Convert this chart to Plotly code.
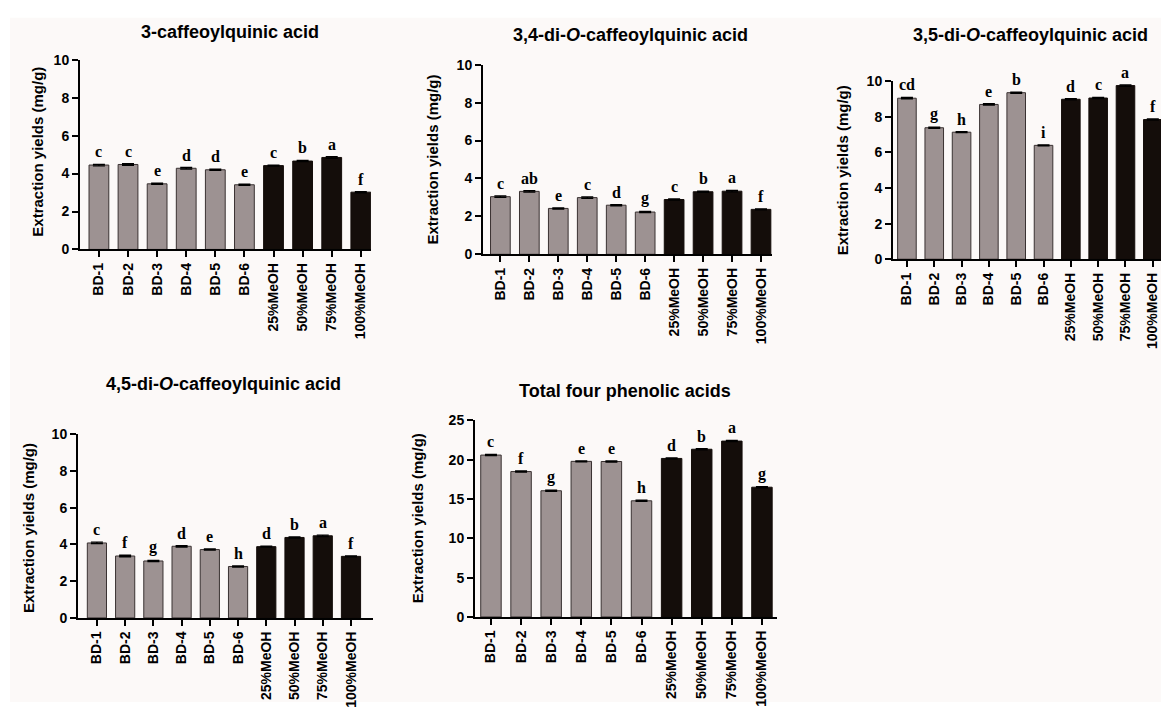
import plotly.graph_objects as go

categories = ["BD-1", "BD-2", "BD-3", "BD-4", "BD-5", "BD-6",
              "25%MeOH", "50%MeOH", "75%MeOH", "100%MeOH"]

titles = ["3-caffeoylquinic acid",
          "3,4-di-<i>O</i>-caffeoylquinic acid",
          "3,5-di-<i>O</i>-caffeoylquinic acid",
          "4,5-di-<i>O</i>-caffeoylquinic acid",
          "Total four phenolic acids"]

cqa3 = [4.45, 4.48, 3.46, 4.28, 4.20, 3.41, 4.42, 4.66, 4.85, 3.02]
dicqa34 = [3.04, 3.32, 2.42, 2.99, 2.59, 2.23, 2.89, 3.30, 3.33, 2.37]
dicqa35 = [9.05, 7.39, 7.14, 8.70, 9.36, 6.40, 8.99, 9.06, 9.76, 7.85]
dicqa45 = [4.08, 3.37, 3.10, 3.90, 3.72, 2.80, 3.88, 4.38, 4.47, 3.35]
total = [20.6, 18.5, 16.06, 19.8, 19.78, 14.78, 20.17, 21.34, 22.38, 16.51]

err_small = [0.04, 0.04, 0.03, 0.04, 0.03, 0.03, 0.03, 0.03, 0.04, 0.03]
err_total = [0.08, 0.08, 0.07, 0.07, 0.07, 0.07, 0.07, 0.07, 0.08, 0.07]

letters = [
    ["c", "c", "e", "d", "d", "e", "c", "b", "a", "f"],
    ["c", "ab", "e", "c", "d", "g", "c", "b", "a", "f"],
    ["cd", "g", "h", "e", "b", "i", "d", "c", "a", "f"],
    ["c", "f", "g", "d", "e", "h", "d", "b", "a", "f"],
    ["c", "f", "g", "e", "e", "h", "d", "b", "a", "g"],
]

series = [cqa3, dicqa34, dicqa35, dicqa45, total]
errs = [err_small, err_small, err_small, err_small, err_total]
yranges = [[0, 10], [0, 10], [0, 10], [0, 10], [0, 25]]
ydticks = [2, 2, 2, 2, 5]

W, H = 1161, 710
# pixel boxes: (left, right, top, bottom)
boxes = [(80, 371, 53, 247), (483, 772, 58, 252), (893, 1161, 75, 257),
         (78, 373, 436, 624), (475, 777, 422, 623)]
xranges = [[-0.65, 9.35], [-0.6, 9.38], [-0.51, 9.3], [-0.67, 9.78], [-0.53, 9.5]]
title_pos = [(230, 25), (630, 28), (1030, 28), (223, 385), (625, 392)]
ytitle_pos = [(38, 147), (433, 155), (842, 166), (28, 532), (417, 522)]

GREY = "#9d9292"
BLACK = "#140d0a"
colors = [GREY] * 6 + [BLACK] * 4
lines = ["#3a3232"] * 6 + [BLACK] * 4

fig = go.Figure()
annotations = []
layout = {}
for i in range(5):
    n = "" if i == 0 else str(i + 1)
    l, r, t, b = boxes[i]
    fig.add_trace(go.Bar(
        x=categories, y=series[i], xaxis="x" + n, yaxis="y" + n,
        marker=dict(color=colors, line=dict(color=lines, width=1)),
        width=0.68, showlegend=False,
        error_y=dict(type="data", array=errs[i], color="#000000",
                     thickness=1.3, width=6),
    ))
    layout["xaxis" + n] = dict(
        domain=[l / W, r / W], anchor="y" + n, type="category",
        range=xranges[i], showline=True, linecolor="black", linewidth=2,
        ticks="outside", ticklen=6, tickwidth=2, tickcolor="black",
        tickangle=-90, showgrid=False, zeroline=False,
        tickfont=dict(family="Liberation Sans", size=14, color="black"),
        ticktext=["<b>%s</b>" % c for c in categories], tickvals=categories,
    )
    tv = list(range(yranges[i][0], yranges[i][1] + 1, ydticks[i]))
    layout["yaxis" + n] = dict(
        domain=[1 - b / H, 1 - t / H], anchor="x" + n, range=yranges[i],
        showline=True, linecolor="black", linewidth=2,
        ticks="outside", ticklen=6, tickwidth=2, tickcolor="black",
        showgrid=False, zeroline=False, tickvals=tv,
        ticktext=["<b>%d</b>" % v for v in tv],
        tickfont=dict(family="Liberation Sans", size=14, color="black"),
    )
    tx, ty = title_pos[i]
    annotations.append(dict(
        text="<b>%s</b>" % titles[i], x=tx / W, y=1 - ty / H, xref="paper", yref="paper",
        showarrow=False, xanchor="center", yanchor="middle",
        font=dict(family="Liberation Sans", size=18, color="black")))
    yx, yy = ytitle_pos[i]
    annotations.append(dict(
        text="<b>Extraction yields (mg/g)</b>", x=yx / W, y=1 - yy / H,
        xref="paper", yref="paper", showarrow=False, textangle=-90,
        xanchor="center", yanchor="middle",
        font=dict(family="Liberation Sans", size=15, color="black")))
    for c, v, e, lt in zip(categories, series[i], errs[i], letters[i]):
        annotations.append(dict(
            text="<b>%s</b>" % lt, x=c, y=v + e, xref="x" + n, yref="y" + n,
            showarrow=False, yanchor="bottom", xanchor="center", yshift=2,
            font=dict(family="Liberation Serif", size=16, color="black")))

fig.update_layout(
    width=W, height=H, margin=dict(l=0, r=0, t=0, b=0), autosize=False,
    paper_bgcolor="white", plot_bgcolor="rgba(0,0,0,0)",
    annotations=annotations, bargap=0.3,
    shapes=[dict(type="rect", xref="paper", yref="paper",
                 x0=10 / W, x1=1, y0=0, y1=1 - 10 / H,
                 fillcolor="#fcf9f8", line=dict(width=0), layer="below")],
    **layout,
)

fig.write_html("out.html", config={"displayModeBar": False, "responsive": False})

# remove the default page margin so the figure sits at the window's corner
with open("out.html", "r", encoding="utf-8") as fh:
    html = fh.read()
css = ("<style>html,body{margin:0;padding:0;overflow:hidden;width:1161px;height:710px;}"
       ".plotly-graph-div{position:absolute;top:0;left:0;}</style>")
html = html.replace("<head>", "<head>" + css, 1)
with open("out.html", "w", encoding="utf-8") as fh:
    fh.write(html)
